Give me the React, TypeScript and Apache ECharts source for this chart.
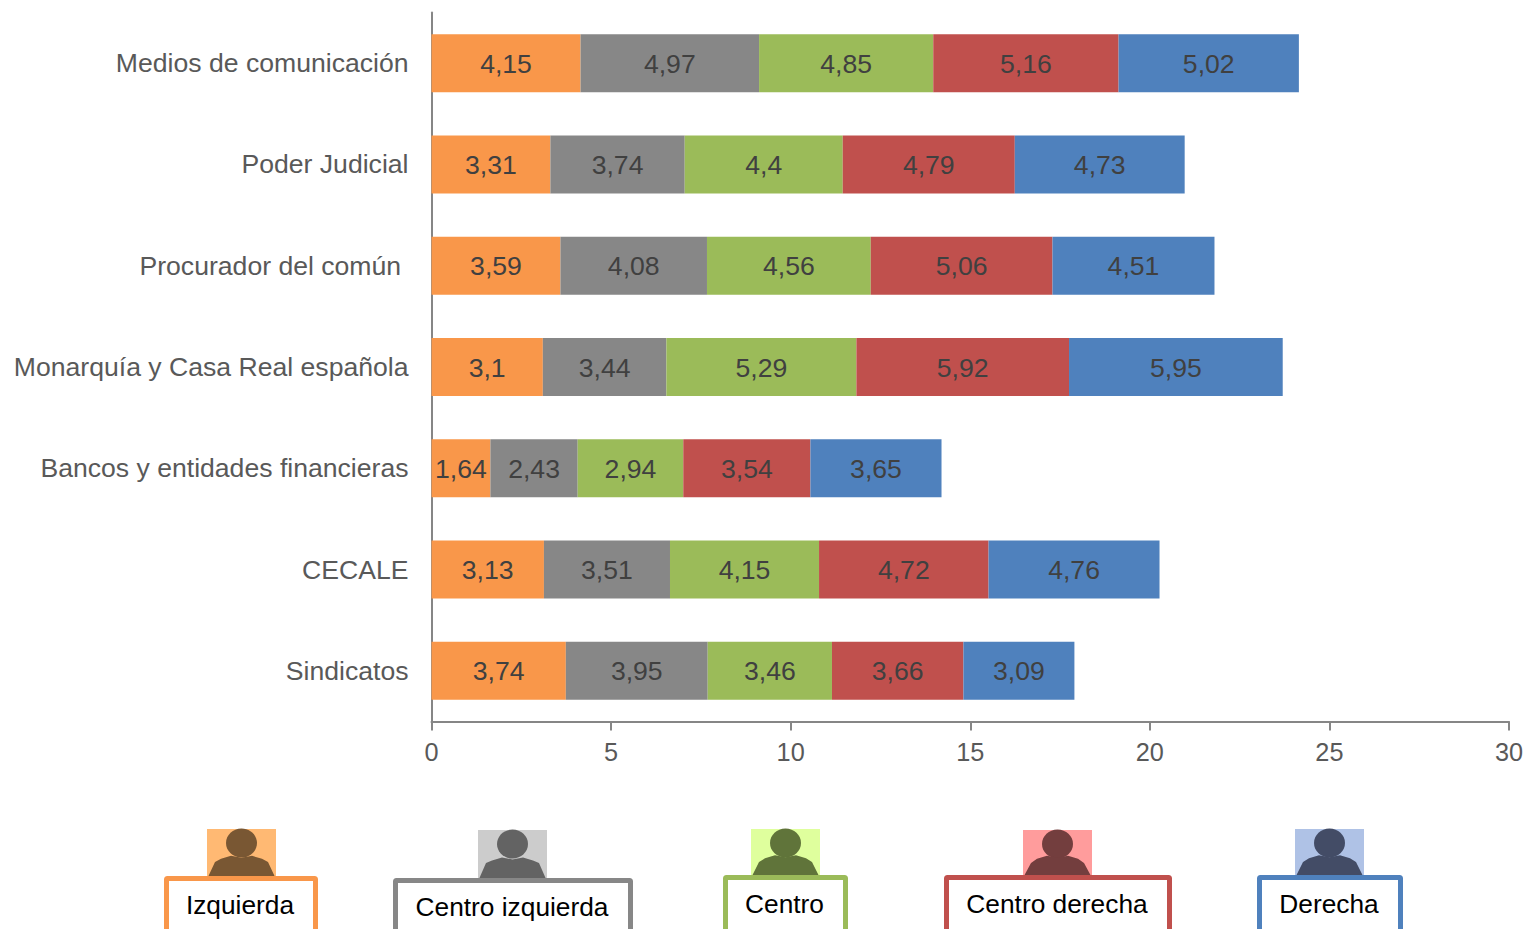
import React, { useEffect, useRef } from "react";
import * as echarts from "echarts";

const categories = [
  "Medios de comunicación",
  "Poder Judicial",
  "Procurador del común\u00a0",
  "Monarquía y Casa Real española",
  "Bancos y entidades financieras",
  "CECALE",
  "Sindicatos",
];
const izquierda = [4.15, 3.31, 3.59, 3.1, 1.64, 3.13, 3.74];
const centroIzquierda = [4.97, 3.74, 4.08, 3.44, 2.43, 3.51, 3.95];
const centro = [4.85, 4.4, 4.56, 5.29, 2.94, 4.15, 3.46];
const centroDerecha = [5.16, 4.79, 5.06, 5.92, 3.54, 4.72, 3.66];
const derecha = [5.02, 4.73, 4.51, 5.95, 3.65, 4.76, 3.09];

const seriesNames = ["Izquierda", "Centro izquierda", "Centro", "Centro derecha", "Derecha"];
const seriesValues = [izquierda, centroIzquierda, centro, centroDerecha, derecha];
const seriesColors = ["#F9974A", "#878787", "#9BBB59", "#C0504D", "#4F81BD"];

const iconBg = ["#FFB973", "#CCCCCC", "#DFFF9D", "#FF9C9C", "#AFC2E6"];
const iconFg = ["#795733", "#636363", "#60743A", "#733E3E", "#434C66"];
// Legend layout: box left, right, top; icon left, top, bottom
const legendBoxes = [
  { l: 164, r: 318, t: 876, il: 207, it: 829, ib: 877, ty: 905 },
  { l: 393, r: 633, t: 878, il: 478, it: 830, ib: 879, ty: 907 },
  { l: 723, r: 848, t: 875, il: 751, it: 829, ib: 876, ty: 904 },
  { l: 944, r: 1172, t: 875, il: 1023, it: 830, ib: 876, ty: 904 },
  { l: 1257, r: 1403, t: 875, il: 1295, it: 829, ib: 876, ty: 904 },
];

const FONT = "'Liberation Sans', Arial, sans-serif";

function legendGraphic() {
  const out: any[] = [];
  legendBoxes.forEach((b, i) => {
    const w = 69;
    const h = b.ib - b.it;
    const cx = b.il + w / 2;
    const bt = b.it + h * 0.58;
    out.push({ type: "rect", shape: { x: b.il, y: b.it, width: w, height: h }, style: { fill: iconBg[i] } });
    out.push({ type: "ellipse", shape: { cx, cy: b.it + 14, rx: 15.5, ry: 14.5 }, style: { fill: iconFg[i] } });
    out.push({
      type: "polygon",
      shape: {
        points: [
          [b.il + 1, b.ib],
          [b.il + 8, b.it + 33],
          [b.il + 14, bt + 2],
          [b.il + 24, bt - 1],
          [cx, bt + 1],
          [b.il + 45, bt - 1],
          [b.il + 55, bt + 2],
          [b.il + 61, b.it + 33],
          [b.il + w - 1, b.ib],
        ],
      },
      style: { fill: iconFg[i] },
    });
    out.push({
      type: "rect",
      shape: { x: b.l + 2.5, y: b.t + 2.5, width: b.r - b.l - 5, height: 80, r: 1 },
      style: { fill: "#FFFFFF", stroke: seriesColors[i], lineWidth: 5 },
    });
    out.push({
      type: "text",
      x: (b.l + b.r) / 2 - 1,
      y: b.ty,
      style: {
        text: seriesNames[i],
        fill: "#000000",
        font: `26.3px ${FONT}`,
        textAlign: "center",
        textVerticalAlign: "middle",
      },
    });
  });
  return out;
}

export default function App() {
  const ref = useRef<HTMLDivElement>(null);
  useEffect(() => {
    document.body.style.margin = "0";
    document.body.style.overflow = "hidden";
    const chart = echarts.init(ref.current!, null, { renderer: "svg" });
    chart.setOption({
      animation: false,
      backgroundColor: "#FFFFFF",
      grid: { left: 431.5, right: 18, top: 12.5, height: 709, containLabel: false },
      xAxis: {
        type: "value",
        min: 0,
        max: 30,
        interval: 5,
        splitLine: { show: false },
        axisLine: { show: true, lineStyle: { color: "#868686", width: 2 } },
        axisTick: { show: true, length: 9, lineStyle: { color: "#868686", width: 2 } },
        axisLabel: { color: "#595959", fontSize: 25.3, fontFamily: FONT, margin: 18 },
      },
      yAxis: {
        type: "category",
        inverse: true,
        data: categories,
        axisLine: { show: true, lineStyle: { color: "#868686", width: 2 } },
        axisTick: { show: false },
        axisLabel: { color: "#595959", fontSize: 26.6, fontFamily: FONT, margin: 23, padding: [0, 0, 2, 0] },
      },
      series: seriesValues.map((vals, i) => ({
        name: seriesNames[i],
        type: "bar",
        stack: "total",
        barWidth: 58,
        data: vals,
        itemStyle: { color: seriesColors[i] },
        label: {
          show: true,
          position: "inside",
          color: "#404040",
          fontSize: 26.6,
          fontFamily: FONT,
          offset: [0, 0.5],
          formatter: (p: any) => String(p.value).replace(".", ","),
        },
      })),
      graphic: legendGraphic(),
    });
    return () => chart.dispose();
  }, []);
  return <div ref={ref} style={{ width: 1527, height: 929 }} />;
}
